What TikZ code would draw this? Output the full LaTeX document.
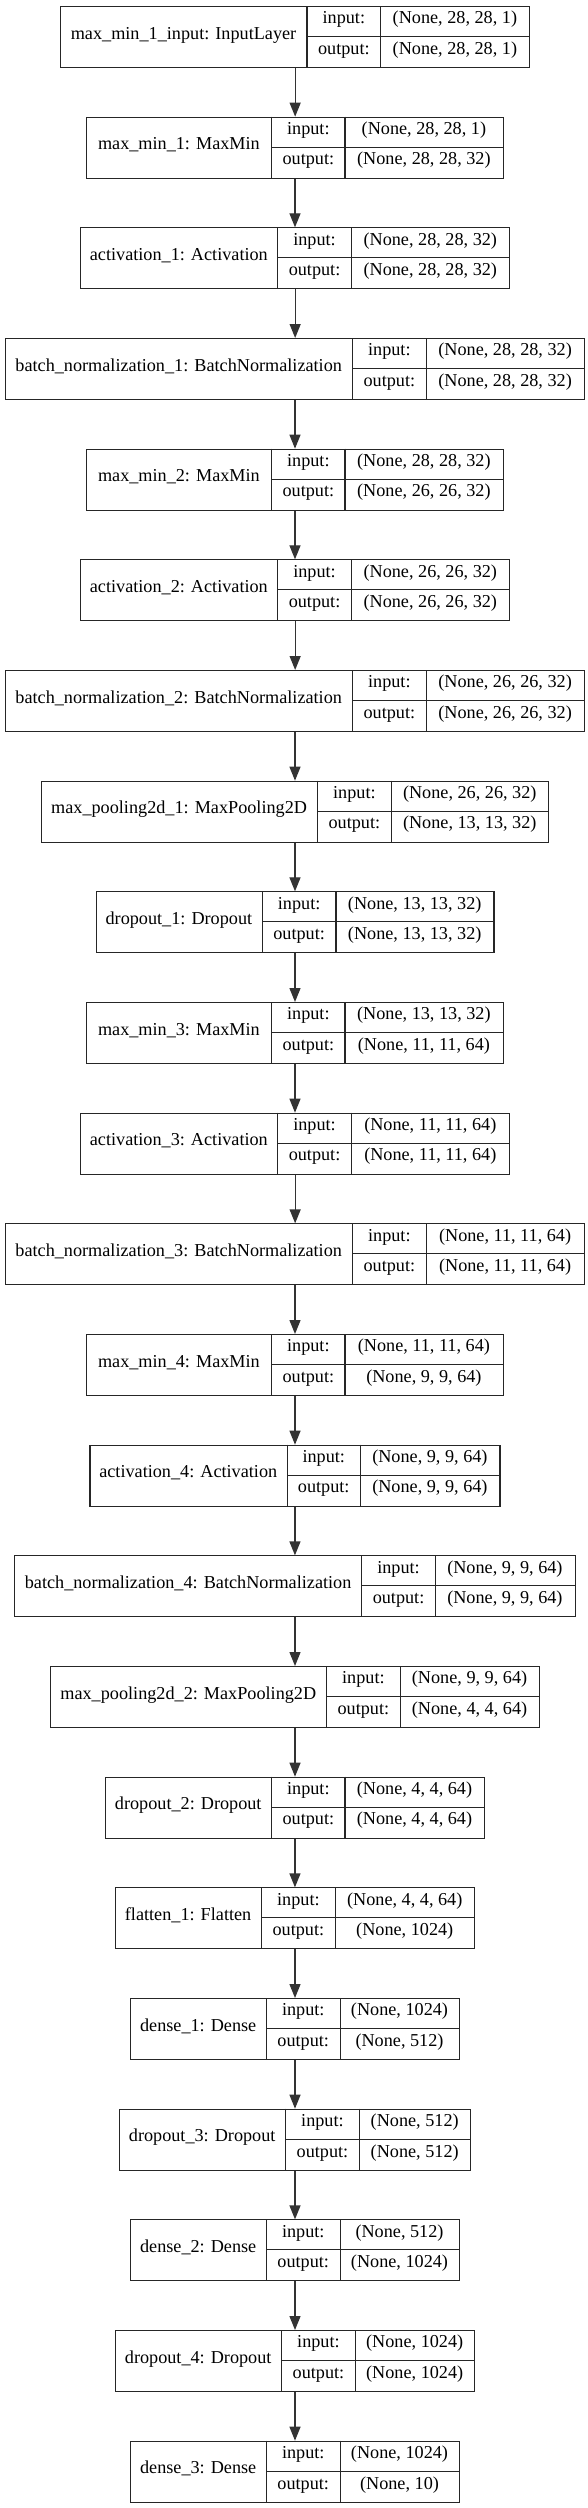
\documentclass[tikz,border=0pt]{standalone}
\usepackage{fontspec}
\setmainfont{Liberation Serif}
\usetikzlibrary{arrows.meta}
\tikzset{
  boxstyle/.style={draw=black!85, line width=1.1pt, inner sep=0pt, rectangle},
  cellline/.style={draw=black!85, line width=1.1pt},
  txt/.style={inner sep=0pt, font=\fontsize{18.2pt}{20pt}\selectfont, text height=0.75em, text depth=0.24em},
  arr/.style={draw=black!80, line width=1.3pt, -{Triangle[length=14pt,width=11pt]}}
}
\newcommand\kerasnode[9]{%
  \pgfmathsetmacro\yt{6+110.667*#2}%
  \pgfmathsetmacro\ym{\yt+30.5}%
  \pgfmathsetmacro\yb{\yt+61}%
  \pgfmathsetmacro\yu{\yt+15.25}%
  \pgfmathsetmacro\yd{\yt+45.75}%
  \node[boxstyle, minimum width={#6pt-#3pt}, minimum height=61pt, anchor=north west] (#1) at (#3,\yt) {};
  \draw[cellline] (#4,\yt) -- (#4,\yb) (#5,\yt) -- (#5,\yb) (#4,\ym) -- (#6,\ym);
  \node[txt] (#1-lab) at ({(#3+#4)/2},\ym) {#7};
  \node[txt] (#1-ik) at ({(#4+#5)/2},\yu) {input:};
  \node[txt] (#1-ok) at ({(#4+#5)/2},\yd) {output:};
  \node[txt] (#1-iv) at ({(#5+#6)/2},\yu) {#8};
  \node[txt] (#1-ov) at ({(#5+#6)/2},\yd) {#9};
}
\begin{document}
\begin{tikzpicture}[x=1pt,y=-1pt]
\useasboundingbox (0,0) rectangle (588,2508);
\kerasnode{n0}{0}{60.1}{307.0}{380.7}{529.1}{max\_min\_1\_input: InputLayer}{(None, 28, 28, 1)}{(None, 28, 28, 1)}
\kerasnode{n1}{1}{86.1}{271.7}{345.0}{502.8}{max\_min\_1: MaxMin}{(None, 28, 28, 1)}{(None, 28, 28, 32)}
\kerasnode{n2}{2}{80.0}{277.7}{351.4}{509.2}{activation\_1: Activation}{(None, 28, 28, 32)}{(None, 28, 28, 32)}
\kerasnode{n3}{3}{4.9}{352.5}{426.2}{584.0}{batch\_normalization\_1: BatchNormalization}{(None, 28, 28, 32)}{(None, 28, 28, 32)}
\kerasnode{n4}{4}{86.1}{271.7}{345.0}{502.8}{max\_min\_2: MaxMin}{(None, 28, 28, 32)}{(None, 26, 26, 32)}
\kerasnode{n5}{5}{80.0}{277.7}{351.4}{509.2}{activation\_2: Activation}{(None, 26, 26, 32)}{(None, 26, 26, 32)}
\kerasnode{n6}{6}{4.9}{352.5}{426.2}{584.0}{batch\_normalization\_2: BatchNormalization}{(None, 26, 26, 32)}{(None, 26, 26, 32)}
\kerasnode{n7}{7}{40.6}{317.6}{391.2}{548.3}{max\_pooling2d\_1: MaxPooling2D}{(None, 26, 26, 32)}{(None, 13, 13, 32)}
\kerasnode{n8}{8}{95.5}{262.3}{336.0}{493.4}{dropout\_1: Dropout}{(None, 13, 13, 32)}{(None, 13, 13, 32)}
\kerasnode{n9}{9}{86.1}{271.7}{345.0}{502.8}{max\_min\_3: MaxMin}{(None, 13, 13, 32)}{(None, 11, 11, 64)}
\kerasnode{n10}{10}{80.0}{277.7}{351.4}{509.2}{activation\_3: Activation}{(None, 11, 11, 64)}{(None, 11, 11, 64)}
\kerasnode{n11}{11}{4.9}{352.5}{426.2}{584.0}{batch\_normalization\_3: BatchNormalization}{(None, 11, 11, 64)}{(None, 11, 11, 64)}
\kerasnode{n12}{12}{86.1}{271.7}{345.0}{502.8}{max\_min\_4: MaxMin}{(None, 11, 11, 64)}{(None, 9, 9, 64)}
\kerasnode{n13}{13}{89.4}{287.1}{360.4}{499.4}{activation\_4: Activation}{(None, 9, 9, 64)}{(None, 9, 9, 64)}
\kerasnode{n14}{14}{14.3}{361.9}{435.2}{574.6}{batch\_normalization\_4: BatchNormalization}{(None, 9, 9, 64)}{(None, 9, 9, 64)}
\kerasnode{n15}{15}{50.0}{326.6}{400.2}{538.9}{max\_pooling2d\_2: MaxPooling2D}{(None, 9, 9, 64)}{(None, 4, 4, 64)}
\kerasnode{n16}{16}{104.8}{271.7}{345.0}{484.0}{dropout\_2: Dropout}{(None, 4, 4, 64)}{(None, 4, 4, 64)}
\kerasnode{n17}{17}{114.6}{261.6}{335.2}{474.3}{flatten\_1: Flatten}{(None, 4, 4, 64)}{(None, 1024)}
\kerasnode{n18}{18}{130.0}{266.4}{340.1}{458.9}{dense\_1: Dense}{(None, 1024)}{(None, 512)}
\kerasnode{n19}{19}{118.8}{285.6}{359.3}{470.1}{dropout\_3: Dropout}{(None, 512)}{(None, 512)}
\kerasnode{n20}{20}{130.0}{266.4}{340.1}{458.9}{dense\_2: Dense}{(None, 512)}{(None, 1024)}
\kerasnode{n21}{21}{114.6}{281.8}{355.1}{474.3}{dropout\_4: Dropout}{(None, 1024)}{(None, 1024)}
\kerasnode{n22}{22}{130.0}{266.4}{340.1}{458.9}{dense\_3: Dense}{(None, 1024)}{(None, 10)}
\foreach \a/\b in {0/1,1/2,2/3,3/4,4/5,5/6,6/7,7/8,8/9,9/10,10/11,11/12,12/13,13/14,14/15,15/16,16/17,17/18,18/19,19/20,20/21,21/22}
  \draw[arr] (n\a.south) -- (n\a.south |- n\b.north);
\end{tikzpicture}
\end{document}
